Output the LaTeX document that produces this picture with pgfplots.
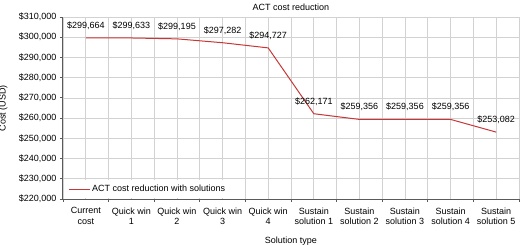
\documentclass[border=0pt]{standalone}
\usepackage{pgfplots}
\pgfplotsset{compat=1.18}
\usepackage{fontspec}
\setmainfont{Liberation Sans}
\definecolor{linered}{RGB}{200,55,55}
\definecolor{gridgray}{RGB}{210,210,210}
\definecolor{axisgray}{RGB}{90,90,90}
\begin{document}
\begin{tikzpicture}
\begin{axis}[
  at={(0,0)}, anchor=south west,
  scale only axis,
  width=456pt, height=182pt,
  font=\fontsize{9}{10.5}\selectfont,
  xmin=-0.5, xmax=9.5,
  ymin=220000, ymax=310000,
  ytick={220000,230000,...,310000},
  scaled y ticks=false,
  /pgf/number format/.cd, fixed, precision=0, 1000 sep={,}, assume math mode=true,
  /pgfplots/.cd,
  yticklabel={\$\pgfmathprintnumber{\tick}},
  xtick={0,...,9},
  xticklabels={Current\\cost,Quick win\\1,Quick win\\2,Quick win\\3,Quick win\\4,Sustain\\solution 1,Sustain\\solution 2,Sustain\\solution 3,Sustain\\solution 4,Sustain\\solution 5},
  xticklabel style={align=center, yshift=-2pt},
  minor xtick={-0.5,0.5,...,9.5},
  grid=both,
  major grid style={draw=gridgray, line width=0.7pt},
  minor grid style={draw=gridgray, line width=0.7pt},
  major x tick style={draw=none},
  minor x tick style={draw=axisgray, line width=0.8pt},
  major y tick style={draw=axisgray, line width=0.8pt},
  tick align=outside,
  major tick length=3pt, minor tick length=3pt,
  axis x line*=bottom, axis y line*=left,
  axis line style={draw=axisgray, line width=1pt, -},
  xlabel={Solution type},
  ylabel={Cost (USD)},
  xlabel style={yshift=-5pt},
  ylabel style={at={(axis description cs:-0.114,0.5)}, anchor=south},
  title={ACT cost reduction},
  title style={yshift=-3pt},
  nodes near coords,
  point meta=explicit symbolic,
  every node near coord/.append style={anchor=base, yshift=9.5pt, text=black, font=\fontsize{9}{10.5}\selectfont},
  legend style={at={(0.004,0.004)}, anchor=south west, draw=none, fill=white, font=\fontsize{9}{10.5}\selectfont, inner xsep=3pt, inner ysep=3pt},
  legend cell align=left,
  legend image code/.code={\draw[linered, line width=1pt] (0pt,0pt) -- (21pt,0pt);},
]
\addplot[color=linered, line width=1pt, mark=none] coordinates {
  (0,299664) [\$299,664]
  (1,299633) [\$299,633]
  (2,299195) [\$299,195]
  (3,297282) [\$297,282]
  (4,294727) [\$294,727]
  (5,262171) [\$262,171]
  (6,259356) [\$259,356]
  (7,259356) [\$259,356]
  (8,259356) [\$259,356]
  (9,253082) [\$253,082]
};
\addlegendentry{ACT cost reduction with solutions}
\end{axis}
\pgfresetboundingbox
\path[use as bounding box] (-63pt,-45pt) rectangle (457pt,199pt);
\end{tikzpicture}
\end{document}
